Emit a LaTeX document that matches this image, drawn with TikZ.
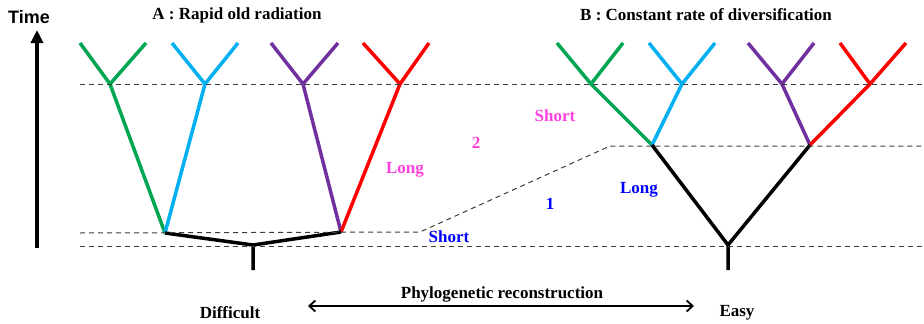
\documentclass[tikz,border=0pt]{standalone}
\usepackage{fontspec}
\setmainfont{Liberation Serif}
\setsansfont{Liberation Sans}
\definecolor{TreeGreen}{RGB}{0,166,81}
\definecolor{TreeBlue}{RGB}{0,176,240}
\definecolor{TreePurple}{RGB}{112,48,160}
\definecolor{TreeRed}{RGB}{255,0,0}
\definecolor{LabelPink}{RGB}{255,64,220}
\definecolor{LabelBlue}{RGB}{0,0,255}
\definecolor{GuideGray}{RGB}{60,60,60}
\usetikzlibrary{
    arrows.meta,
    positioning,
}
\tikzset{
    branch/.style={line width=3.5pt, line join=round},
    guide/.style={GuideGray, line width=1pt, dash pattern=on 5pt off 4pt},
    lbl/.style={font=\fontsize{17}{20}\selectfont\bfseries, inner sep=1pt},
}

\begin{document}
\begin{tikzpicture}[x=1pt, y=-1pt]
        \useasboundingbox (0,0) rectangle (924,324);
        % tree A: rapid old radiation
        \coordinate (a1) at (80,43);   \coordinate (a2) at (146,43);
        \coordinate (a3) at (172,43);  \coordinate (a4) at (238,43);
        \coordinate (a5) at (271,43);  \coordinate (a6) at (338,43);
        \coordinate (a7) at (363,43);  \coordinate (a8) at (429,43);
        \coordinate (aG) at (110,84);  \coordinate (aB) at (205,84);
        \coordinate (aP) at (303,84);  \coordinate (aR) at (400,84);
        \coordinate (aL) at (165,233); \coordinate (aRt) at (341,232);
        \coordinate (aM) at (253,245); \coordinate (aRoot) at (253,270);
        \draw[branch, TreeGreen] (a1) -- (aG) -- (a2) (aG) -- (aL);
        \draw[branch, TreeBlue] (a3) -- (aB) -- (a4) (aB) -- (aL);
        \draw[branch, TreePurple] (a5) -- (aP) -- (a6) (aP) -- (aRt);
        \draw[branch, TreeRed] (a7) -- (aR) -- (a8) (aR) -- (aRt);
        \draw[branch, black] (aL) -- (aM) -- (aRt) (aM) -- (aRoot);
        % tree B: constant rate
        \coordinate (b1) at (557,43);  \coordinate (b2) at (623,43);
        \coordinate (b3) at (649,43);  \coordinate (b4) at (715,43);
        \coordinate (b5) at (748,43);  \coordinate (b6) at (814,43);
        \coordinate (b7) at (840,43);  \coordinate (b8) at (906,43);
        \coordinate (bG) at (591,84);  \coordinate (bB) at (682,84);
        \coordinate (bP) at (782,84);  \coordinate (bR) at (870,84);
        \coordinate (bL) at (652,145); \coordinate (bRt) at (810,145);
        \coordinate (bM) at (728,245); \coordinate (bRoot) at (728,270);
        \draw[branch, TreeGreen] (b1) -- (bG) -- (b2) (bG) -- (bL);
        \draw[branch, TreeBlue] (b3) -- (bB) -- (b4) (bB) -- (bL);
        \draw[branch, TreePurple] (b5) -- (bP) -- (b6) (bP) -- (bRt);
        \draw[branch, TreeRed] (b7) -- (bR) -- (b8) (bR) -- (bRt);
        \draw[branch, black] (bL) -- (bM) -- (bRt) (bM) -- (bRoot);
        % dashed time guides
        \coordinate (g1a) at (80,84);   \coordinate (g1b) at (922,84);
        \coordinate (g2a) at (80,233);  \coordinate (g2b) at (420,232);
        \coordinate (g2c) at (610,146); \coordinate (g2d) at (922,146);
        \coordinate (g3a) at (80,246);  \coordinate (g3b) at (922,246);
        \draw[guide] (g1a) -- (g1b);
        \draw[guide] (g2a) -- (g2b) -- (g2c) -- (g2d);
        \draw[guide] (g3a) -- (g3b);
        % time axis
        \node[font=\fontsize{18}{20}\selectfont\sffamily\bfseries, inner sep=0pt] (timelbl) at (29,17) {Time};
        \coordinate (t0) at (37,248); \coordinate (t1) at (37,30);
        \draw[line width=4pt, -{Triangle[length=13pt, width=12pt]}] (t0) -- (t1);
        % titles and labels
        \node[lbl] (titleA) at (237,15) {A : Rapid old radiation};
        \node[lbl] (titleB) at (706,15) {B : Constant rate of diversification};
        \node[lbl, LabelPink] (shortA) at (555,116) {Short};
        \node[lbl, LabelPink] (two) at (476,143) {2};
        \node[lbl, LabelPink] (longA) at (405,170) {Long};
        \node[lbl, LabelBlue] (longB) at (639,190) {Long};
        \node[lbl, LabelBlue] (one) at (550,204) {1};
        \node[lbl, LabelBlue] (shortB) at (449,237) {Short};
        % reconstruction axis
        \node[lbl] (difficult) at (230,313) {Difficult};
        \node[lbl] (easy) at (737,313) {Easy};
        \node[lbl] (recon) at (502,294) {Phylogenetic reconstruction};
        \coordinate (r0) at (308,306); \coordinate (r1) at (694,306);
        \draw[line width=1.8pt, {Straight Barb[length=6pt, width=11pt]}-{Straight Barb[length=6pt, width=11pt]}] (r0) -- (r1);
    \end{tikzpicture}
\end{document}
